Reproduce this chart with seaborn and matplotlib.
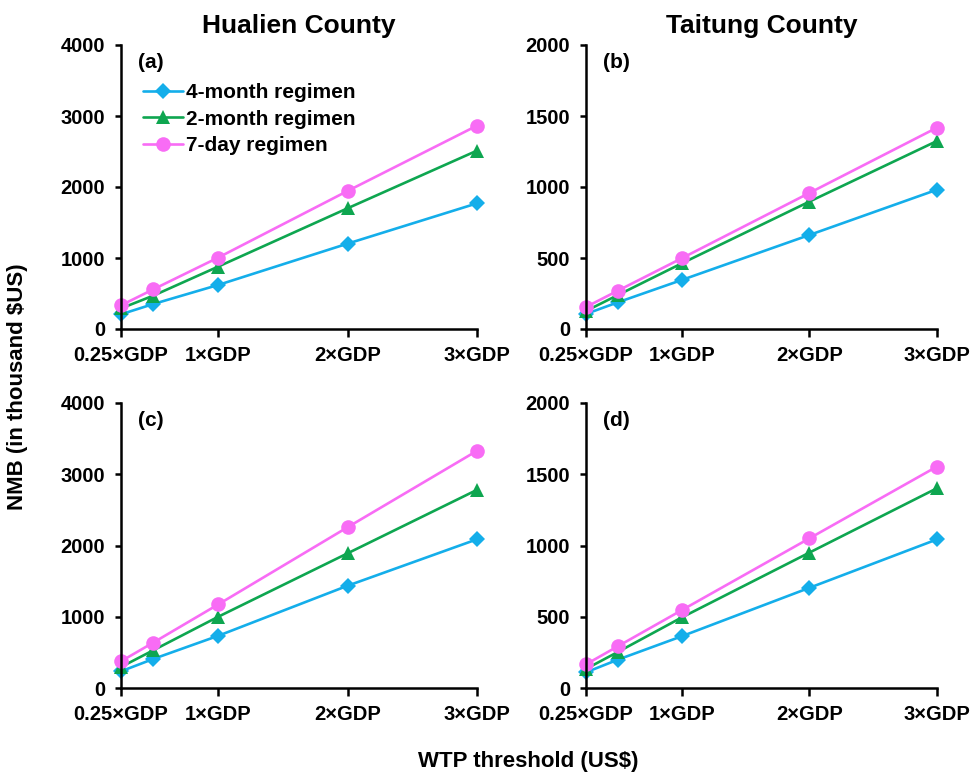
import numpy as np
import pandas as pd
import matplotlib
matplotlib.use("Agg")
import matplotlib.pyplot as plt
import seaborn as sns

sns.set_style("ticks")
plt.rcParams['font.family'] = ['Liberation Sans', 'DejaVu Sans']
plt.rcParams['font.weight'] = 'bold'
for k in ['text.color', 'axes.labelcolor', 'xtick.color', 'ytick.color', 'axes.edgecolor']:
    plt.rcParams[k] = 'black'

# WTP threshold multiples of GDP
wtp = [0.25, 0.5, 1, 2, 3]
tick_pos = [0.25, 1, 2, 3]
tick_labels = ["0.25×GDP", "1×GDP", "2×GDP", "3×GDP"]
regimens = ["4-month regimen", "2-month regimen", "7-day regimen"]

# Panel (a) Hualien County
a_4m = [207, 352, 620, 1202, 1770]
a_2m = [290, 470, 878, 1700, 2512]
a_7d = [333, 559, 1005, 1944, 2864]
# Panel (b) Taitung County
b_4m = [106, 188, 345, 662, 981]
b_2m = [127, 239, 462, 897, 1324]
b_7d = [155, 270, 498, 958, 1418]
# Panel (c) Hualien County
c_4m = [234, 408, 732, 1435, 2087]
c_2m = [295, 530, 999, 1890, 2781]
c_7d = [375, 638, 1172, 2256, 3329]
# Panel (d) Taitung County
d_4m = [110, 199, 363, 703, 1043]
d_2m = [134, 253, 495, 950, 1402]
d_7d = [166, 293, 546, 1050, 1554]

panels = [
    ("(a)", [a_4m, a_2m, a_7d], 4000, 1000),
    ("(b)", [b_4m, b_2m, b_7d], 2000, 500),
    ("(c)", [c_4m, c_2m, c_7d], 4000, 1000),
    ("(d)", [d_4m, d_2m, d_7d], 2000, 500),
]
titles = ["Hualien County", "Taitung County"]

palette = {"4-month regimen": "#14AEEA", "2-month regimen": "#0EA650", "7-day regimen": "#F86CF5"}
markers = {"4-month regimen": "D", "2-month regimen": "^", "7-day regimen": "o"}
sizes_m = {"4-month regimen": 8.5, "2-month regimen": 10, "7-day regimen": 10.5}

W, H = 975, 773
fig = plt.figure(figsize=(W / 100, H / 100), dpi=100)
rects = [
    (121, 45, 477, 329),
    (586, 45, 937, 329),
    (121, 403, 477, 688),
    (586, 403, 937, 688),
]

for i, ((lab, series, ymax, ystep), (x0, y0, x1, y1)) in enumerate(zip(panels, rects)):
    ax = fig.add_axes([x0 / W, 1 - y1 / H, (x1 - x0) / W, (y1 - y0) / H])
    df = pd.DataFrame({
        "x": wtp * 3,
        "NMB": series[0] + series[1] + series[2],
        "regimen": [r for r in regimens for _ in wtp],
    })
    sns.lineplot(data=df, x="x", y="NMB", hue="regimen", style="regimen",
                 palette=palette, markers=markers, dashes=False, linewidth=1.9,
                 markeredgewidth=0, ax=ax, legend=(i == 0))
    for line, r in zip(ax.get_lines()[:3], regimens):
        line.set_markersize(sizes_m[r])
    ax.set_xlim(0.25, 3)
    ax.set_ylim(0, ymax)
    ax.set_yticks(np.arange(0, ymax + 1, ystep))
    ax.set_yticklabels([str(int(v)) for v in np.arange(0, ymax + 1, ystep)],
                       fontsize=14.5, fontweight='bold')
    ax.set_xticks(tick_pos)
    ax.set_xticklabels(tick_labels, fontsize=14.5, fontweight='bold')
    ax.tick_params(axis='y', direction='out', length=4.5, width=1.8, colors='black', pad=7)
    ax.tick_params(axis='x', direction='out', length=6, width=1.8, colors='black', pad=6)
    for s in ["top", "right"]:
        ax.spines[s].set_visible(False)
    for s in ["left", "bottom"]:
        ax.spines[s].set_linewidth(1.8)
        ax.spines[s].set_color("black")
    ax.set_xlabel("")
    ax.set_ylabel("")
    ax.patch.set_alpha(0)
    for sp in ax.spines.values():
        sp.set_clip_on(False)
    for line in ax.get_lines():
        line.set_clip_on(False)
    ax.text(0.048, 0.94, lab, transform=ax.transAxes, fontsize=15,
            fontweight='bold', ha='left', va='center')
    if i < 2:
        ax.set_title(titles[i], fontsize=19, fontweight='bold', pad=9)
    if i == 0:
        handles, labels = ax.get_legend_handles_labels()
        for h, r in zip(handles, labels):
            if r in sizes_m:
                h.set_markersize(sizes_m[r])
        ax.legend(handles, labels, loc='upper left', bbox_to_anchor=(0.062, 0.866),
                  frameon=False, prop={'size': 15, 'weight': 'bold'},
                  handlelength=1.9, handletextpad=0.15, labelspacing=0.37,
                  borderaxespad=0, borderpad=0)

fig.text(18 / W, 1 - 387 / H, "NMB (in thousand $US)", rotation=90, fontsize=16,
         fontweight='bold', ha='center', va='center')
fig.text(528 / W, 1 - 761 / H, "WTP threshold (US$)", fontsize=16,
         fontweight='bold', ha='center', va='center')

fig.savefig("out.png", dpi=100)
